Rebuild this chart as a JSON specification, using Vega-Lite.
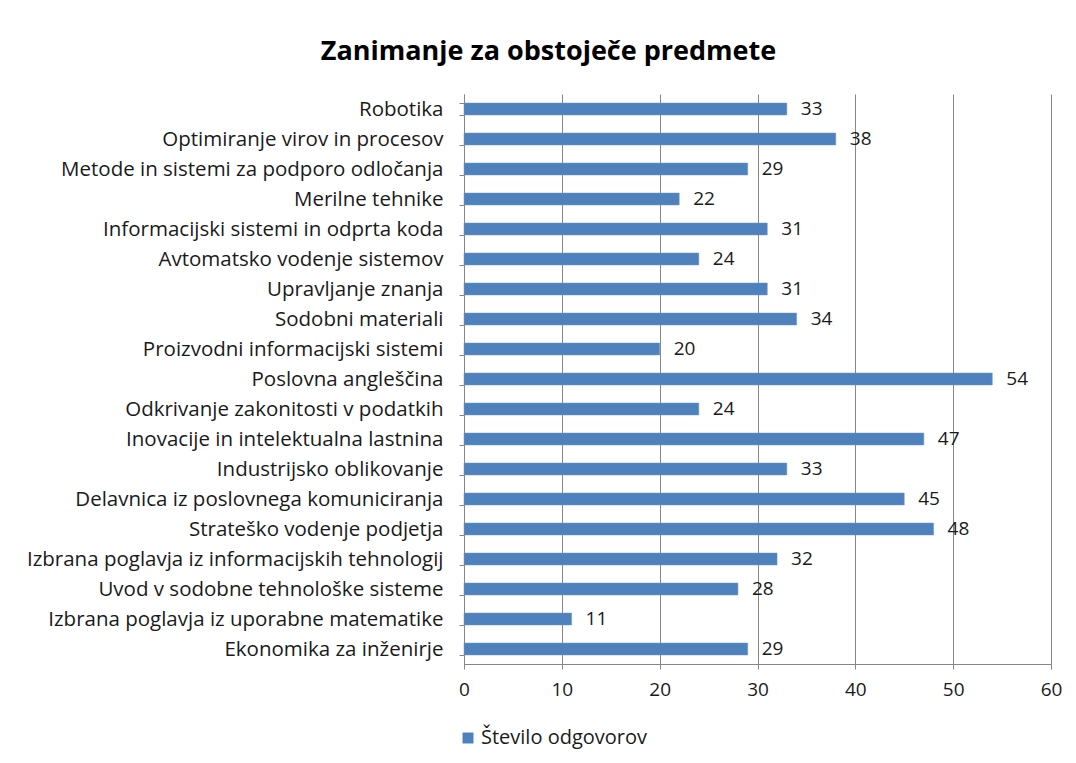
{
  "$schema": "https://vega.github.io/schema/vega-lite/v6.json",
  "width": 587,
  "height": 570,
  "autosize": "none",
  "padding": {"left": 464, "top": 94, "right": 25, "bottom": 99},
  "background": "white",
  "title": {
    "text": "Zanimanje za obstoječe predmete",
    "font": "Open Sans",
    "fontSize": 27,
    "fontWeight": "bold",
    "color": "#000000",
    "anchor": "middle",
    "frame": "group",
    "dx": -209,
    "baseline": "alphabetic",
    "offset": -3
  },
  "data": {
    "values": [
      {"predmet": "Robotika", "odgovori": 33},
      {"predmet": "Optimiranje virov in procesov", "odgovori": 38},
      {"predmet": "Metode in sistemi za podporo odločanja", "odgovori": 29},
      {"predmet": "Merilne tehnike", "odgovori": 22},
      {"predmet": "Informacijski sistemi in odprta koda", "odgovori": 31},
      {"predmet": "Avtomatsko vodenje sistemov", "odgovori": 24},
      {"predmet": "Upravljanje znanja", "odgovori": 31},
      {"predmet": "Sodobni materiali", "odgovori": 34},
      {"predmet": "Proizvodni informacijski sistemi", "odgovori": 20},
      {"predmet": "Poslovna angleščina", "odgovori": 54},
      {"predmet": "Odkrivanje zakonitosti v podatkih", "odgovori": 24},
      {"predmet": "Inovacije in intelektualna lastnina", "odgovori": 47},
      {"predmet": "Industrijsko oblikovanje", "odgovori": 33},
      {"predmet": "Delavnica iz poslovnega komuniciranja", "odgovori": 45},
      {"predmet": "Strateško vodenje podjetja", "odgovori": 48},
      {"predmet": "Izbrana poglavja iz informacijskih tehnologij", "odgovori": 32},
      {"predmet": "Uvod v sodobne tehnološke sisteme", "odgovori": 28},
      {"predmet": "Izbrana poglavja iz uporabne matematike", "odgovori": 11},
      {"predmet": "Ekonomika za inženirje", "odgovori": 29}
    ]
  },
  "encoding": {
    "y": {
      "field": "predmet",
      "type": "nominal",
      "sort": null,
      "title": null,
      "scale": {"paddingInner": 0.6, "paddingOuter": 0.3},
      "axis": {
        "tickBand": "extent",
        "tickSize": 5,
        "tickColor": "#868686",
        "domainColor": "#868686",
        "labelFont": "Open Sans",
        "labelFontSize": 20.5,
        "labelColor": "#1a1a1a",
        "labelPadding": 16,
        "labelLimit": 600,
        "grid": false
      }
    },
    "x": {
      "field": "odgovori",
      "type": "quantitative",
      "title": null,
      "scale": {"domain": [0, 60], "nice": false},
      "axis": {
        "values": [0, 10, 20, 30, 40, 50, 60],
        "tickSize": 5,
        "tickColor": "#868686",
        "domainColor": "#868686",
        "gridColor": "#868686",
        "gridOpacity": 1,
        "labelFlush": false,
        "labelFont": "Open Sans",
        "labelFontSize": 19,
        "labelColor": "#1a1a1a",
        "labelPadding": 11
      }
    }
  },
  "layer": [
    {
      "mark": {"type": "bar", "stroke": "#6f97c9", "strokeWidth": 0.5},
      "encoding": {
        "color": {
          "datum": "Število odgovorov",
          "type": "nominal",
          "scale": {"range": ["#4F81BD"]},
          "legend": {
            "title": null,
            "orient": "none",
            "legendX": -6,
            "legendY": 634,
            "symbolType": "square",
            "symbolSize": 120,
            "symbolStrokeWidth": 0,
            "labelFont": "Open Sans",
            "labelFontSize": 20,
            "labelColor": "#1a1a1a",
            "labelOffset": 3,
            "labelLimit": 400
          }
        }
      }
    },
    {
      "mark": {"type": "text", "align": "left", "baseline": "middle", "dx": 14, "font": "Open Sans", "fontSize": 19, "color": "#1a1a1a"},
      "encoding": {
        "text": {"field": "odgovori", "type": "quantitative"}
      }
    }
  ],
  "config": {
    "view": {"stroke": null}
  }
}
